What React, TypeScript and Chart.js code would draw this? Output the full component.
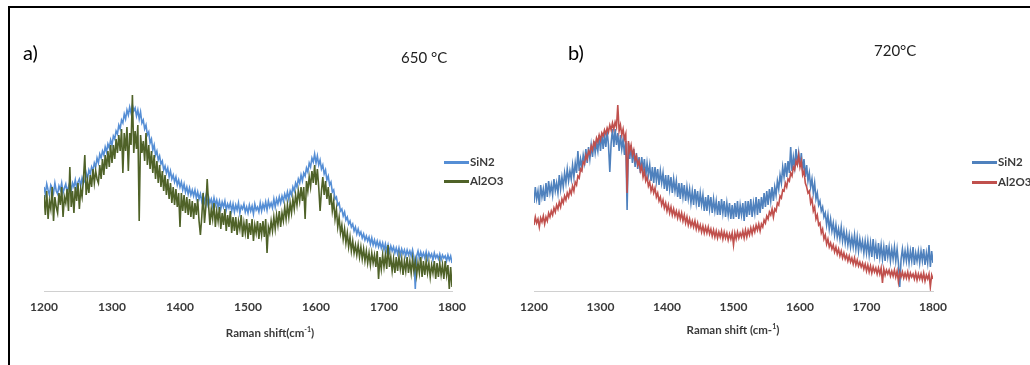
import React, { useEffect, useRef } from "react";
import { Chart, registerables } from "chart.js";

Chart.register(...registerables);

// Raman shift grid (cm-1), 2 cm-1 steps from 1200 to 1800 (301 points)
const ramanShift: number[] = Array.from({ length: 301 }, (_, i) => 1200 + 2 * i);
const xTicks = [1200, 1300, 1400, 1500, 1600, 1700, 1800];

// Panel a) 650 °C — intensity (a.u.), one row = 20 cm-1
const a650SiN2 = [
  104, 97, 107, 101, 96, 106, 103, 98, 108, 100,
  97, 105, 101, 108, 98, 103, 107, 99, 104, 109,
  100, 108, 104, 111, 103, 109, 112, 105, 113, 108,
  110, 118, 112, 121, 117, 124, 120, 128, 124, 133,
  128, 137, 133, 140, 136, 144, 139, 147, 143, 151,
  146, 155, 152, 160, 157, 166, 162, 171, 168, 177,
  172, 181, 176, 184, 178, 186, 180, 183, 175, 181,
  172, 179, 168, 171, 162, 166, 156, 159, 148, 152,
  141, 146, 136, 140, 131, 135, 127, 130, 121, 125,
  118, 123, 114, 120, 112, 116, 109, 114, 106, 111,
  104, 109, 101, 107, 99, 104, 97, 103, 96, 101,
  95, 101, 93, 99, 92, 97, 90, 96, 89, 95,
  87, 94, 88, 92, 85, 93, 86, 91, 84, 90,
  82, 89, 84, 90, 81, 87, 83, 88, 80, 87,
  79, 86, 81, 88, 78, 85, 82, 87, 79, 84,
  78, 86, 80, 85, 77, 87, 81, 84, 79, 88,
  80, 87, 82, 89, 81, 90, 84, 88, 83, 92,
  84, 92, 87, 94, 88, 95, 90, 97, 92, 99,
  92, 100, 96, 104, 100, 108, 104, 112, 108, 116,
  110, 118, 115, 123, 119, 128, 124, 133, 129, 137,
  128, 135, 126, 131, 122, 126, 117, 121, 111, 115,
  106, 109, 99, 101, 92, 94, 86, 88, 80, 82,
  75, 79, 71, 74, 67, 70, 64, 67, 60, 64,
  57, 62, 56, 59, 53, 57, 51, 55, 50, 54,
  47, 53, 46, 51, 45, 50, 44, 49, 43, 48,
  41, 47, 40, 46, 39, 45, 40, 44, 38, 43,
  37, 43, 36, 42, 37, 41, 35, 41, 36, 40,
  35, 41, 34, 2, 35, 40, 33, 39, 34, 38,
  33, 39, 32, 38, 34, 37, 31, 38, 33, 36,
  32, 37, 31, 36, 33, 35, 30, 36, 31, 35,
  28,
];
const a650Al2O3 = [
  96, 76, 100, 72, 90, 82, 104, 70, 94, 84,
  78, 98, 86, 104, 74, 94, 88, 102, 80, 124,
  84, 100, 78, 104, 90, 108, 82, 102, 94, 112,
  136, 96, 110, 98, 116, 104, 122, 108, 120, 112,
  108, 126, 112, 132, 116, 136, 122, 140, 124, 146,
  128, 146, 132, 152, 138, 156, 140, 162, 118, 158,
  140, 164, 120, 158, 146, 196, 138, 160, 142, 166,
  70, 156, 138, 150, 130, 158, 126, 146, 122, 140,
  118, 136, 112, 130, 108, 126, 104, 120, 100, 116,
  96, 112, 92, 108, 88, 104, 86, 102, 84, 98,
  64, 98, 80, 96, 78, 94, 76, 92, 74, 90,
  72, 88, 76, 92, 70, 56, 74, 98, 68, 84,
  112, 86, 66, 82, 72, 88, 64, 80, 70, 84,
  62, 78, 66, 82, 60, 76, 64, 80, 58, 74,
  60, 74, 56, 70, 62, 76, 54, 68, 58, 72,
  52, 68, 56, 72, 50, 66, 58, 70, 52, 68,
  56, 70, 54, 72, 38, 64, 58, 70, 60, 74,
  62, 76, 66, 80, 64, 78, 70, 84, 72, 86,
  74, 88, 78, 92, 82, 96, 86, 100, 90, 104,
  90, 104, 72, 110, 100, 114, 104, 120, 108, 126,
  106, 122, 104, 80, 100, 114, 96, 110, 92, 104,
  86, 98, 80, 90, 72, 82, 64, 74, 58, 66,
  52, 62, 48, 58, 44, 54, 40, 50, 38, 46,
  36, 46, 34, 44, 32, 42, 30, 40, 28, 38,
  26, 38, 28, 36, 24, 40, 12, 34, 22, 36,
  24, 36, 22, 46, 24, 34, 20, 32, 18, 34,
  20, 34, 22, 32, 16, 30, 20, 34, 18, 30,
  18, 32, 20, 30, 16, 28, 18, 34, 14, 30,
  16, 30, 18, 28, 14, 26, 18, 30, 12, 28,
  14, 28, 16, 26, 12, 30, 16, 26, 2, 24,
  4,
];

// Panel b) 720 °C — intensity (a.u.), one row = 20 cm-1
const b720SiN2 = [
  88, 104, 92, 100, 86, 106, 94, 102, 90, 108,
  94, 110, 98, 106, 96, 112, 100, 108, 98, 116,
  102, 114, 104, 118, 108, 122, 110, 120, 112, 126,
  114, 128, 118, 140, 120, 132, 124, 136, 128, 142,
  128, 144, 132, 146, 134, 150, 138, 148, 140, 156,
  140, 158, 142, 156, 144, 160, 146, 119, 148, 162,
  144, 162, 146, 158, 140, 156, 142, 152, 136, 150,
  81, 148, 132, 146, 128, 142, 124, 138, 122, 134,
  118, 134, 120, 132, 114, 128, 116, 126, 110, 124,
  108, 124, 110, 122, 106, 120, 108, 118, 102, 116,
  100, 116, 102, 114, 98, 112, 100, 110, 94, 108,
  92, 108, 94, 106, 90, 104, 92, 102, 88, 100,
  86, 102, 88, 100, 84, 98, 86, 96, 80, 94,
  80, 96, 82, 94, 78, 92, 80, 90, 76, 90,
  76, 92, 78, 90, 74, 88, 76, 88, 72, 86,
  72, 88, 74, 90, 72, 86, 76, 88, 70, 90,
  74, 90, 76, 92, 74, 88, 78, 94, 76, 92,
  78, 94, 82, 98, 84, 100, 86, 102, 90, 104,
  90, 104, 96, 110, 102, 116, 108, 124, 114, 128,
  114, 130, 118, 144, 120, 134, 124, 142, 126, 138,
  124, 138, 120, 132, 114, 126, 110, 118, 104, 112,
  98, 108, 92, 98, 86, 90, 80, 84, 74, 78,
  66, 76, 62, 72, 60, 68, 56, 66, 54, 62,
  52, 64, 50, 60, 48, 58, 46, 56, 44, 54,
  44, 56, 42, 54, 40, 52, 42, 50, 38, 50,
  38, 50, 36, 48, 34, 52, 36, 46, 32, 48,
  34, 46, 32, 44, 30, 46, 34, 44, 30, 42,
  32, 44, 30, 42, 28, 4, 32, 42, 30, 40,
  30, 42, 28, 40, 30, 44, 26, 38, 30, 40,
  28, 40, 30, 42, 26, 38, 28, 46, 24, 40,
  28,
];
const b720Al2O3 = [
  66, 74, 68, 72, 64, 73, 69, 75, 67, 74,
  70, 78, 74, 80, 76, 83, 79, 86, 82, 89,
  84, 92, 88, 95, 91, 98, 94, 101, 97, 105,
  100, 109, 106, 115, 113, 122, 120, 129, 127, 136,
  132, 140, 137, 145, 141, 149, 145, 153, 149, 156,
  151, 158, 155, 161, 157, 163, 159, 166, 161, 168,
  162, 169, 164, 186, 160, 166, 156, 162, 152, 157,
  98, 150, 140, 146, 136, 141, 131, 135, 126, 130,
  120, 125, 114, 120, 110, 114, 105, 109, 100, 105,
  98, 103, 94, 98, 90, 94, 86, 91, 83, 88,
  80, 86, 78, 84, 76, 82, 75, 80, 73, 79,
  72, 78, 70, 76, 68, 74, 66, 72, 65, 70,
  64, 70, 62, 68, 61, 66, 59, 65, 58, 64,
  58, 64, 57, 62, 55, 61, 54, 60, 53, 59,
  54, 60, 52, 59, 53, 58, 51, 57, 52, 58,
  46, 58, 52, 59, 53, 58, 54, 60, 53, 61,
  54, 61, 56, 63, 57, 64, 59, 66, 61, 67,
  60, 67, 64, 71, 68, 75, 72, 79, 76, 82,
  74, 82, 80, 88, 86, 95, 93, 101, 100, 108,
  104, 112, 110, 118, 115, 124, 121, 130, 126, 136,
  124, 130, 116, 120, 108, 104, 98, 100, 88, 92,
  80, 84, 72, 76, 66, 68, 58, 62, 52, 56,
  47, 52, 44, 48, 42, 46, 39, 44, 37, 42,
  35, 40, 33, 38, 32, 36, 30, 35, 29, 33,
  27, 33, 26, 31, 25, 29, 24, 28, 22, 27,
  20, 26, 19, 25, 18, 24, 19, 23, 17, 23,
  17, 23, 8, 22, 16, 21, 17, 21, 15, 20,
  15, 21, 14, 20, 9, 19, 14, 19, 13, 18,
  13, 19, 12, 18, 14, 17, 12, 18, 11, 17,
  12, 17, 11, 18, 10, 16, 12, 17, 4, 16,
  12,
];

const FONT = "Lato, 'Open Sans', sans-serif";

type PanelSpec = {
  sin2: number[];
  al2o3: number[];
  sin2Color: string;
  al2o3Color: string;
  padLeft: number;
  padRight: number;
};

function makeChart(canvas: HTMLCanvasElement, spec: PanelSpec) {
  const toPts = (vals: number[]) => vals.map((y, i) => ({ x: ramanShift[i], y }));
  return new Chart(canvas, {
    type: "line",
    data: {
      datasets: [
        {
          label: "Al2O3",
          data: toPts(spec.al2o3),
          borderColor: spec.al2o3Color,
          borderWidth: 1.6,
          pointRadius: 0,
          tension: 0,
        },
        {
          label: "SiN2",
          data: toPts(spec.sin2),
          borderColor: spec.sin2Color,
          borderWidth: 1.6,
          pointRadius: 0,
          tension: 0,
        },
      ],
    },
    options: {
      animation: false,
      responsive: false,
      devicePixelRatio: 1,
      layout: { padding: { left: spec.padLeft, right: spec.padRight, top: 91, bottom: 0 } },
      plugins: { legend: { display: false }, tooltip: { enabled: false } },
      scales: {
        x: {
          type: "linear",
          min: 1200,
          max: 1800,
          afterBuildTicks: (s: any) => {
            s.ticks = xTicks.map((v) => ({ value: v }));
          },
          afterFit: (s: any) => {
            s.height = 74;
          },
          grid: { display: false, drawTicks: false },
          border: { display: true, color: "#D0D0D0", width: 1 },
          ticks: {
            padding: 9,
            color: "#3A3A3A",
            font: { family: FONT, size: 12, weight: "bold" },
            maxRotation: 0,
            callback: (v: any) => String(v),
          },
        },
        y: {
          display: false,
          min: 0,
          max: 200,
        },
      },
    },
  });
}

const abs = (s: React.CSSProperties): React.CSSProperties => ({ position: "absolute", ...s });

function LegendRow({ x, y, color, label }: { x: number; y: number; color: string; label: string }) {
  return (
    <>
      <div style={abs({ left: x, top: y - 1, width: 25, height: 2.5, background: color })} />
      <div
        style={abs({
          left: x + 26,
          top: y - 8,
          font: `bold 11.5px ${FONT}`,
          color: "#3A3A3A",
          lineHeight: "16px",
          whiteSpace: "nowrap",
        })}
      >
        {label}
      </div>
    </>
  );
}

export default function App() {
  const refA = useRef<HTMLCanvasElement>(null);
  const refB = useRef<HTMLCanvasElement>(null);

  useEffect(() => {
    const ca = makeChart(refA.current!, {
      sin2: a650SiN2,
      al2o3: a650Al2O3,
      sin2Color: "#558ED5",
      al2o3Color: "#4F6228",
      padLeft: 44,
      padRight: 68,
    });
    const cb = makeChart(refB.current!, {
      sin2: b720SiN2,
      al2o3: b720Al2O3,
      sin2Color: "#4F81BD",
      al2o3Color: "#C0504D",
      padLeft: 24,
      padRight: 97,
    });
    return () => {
      ca.destroy();
      cb.destroy();
    };
  }, []);

  const textBase: React.CSSProperties = { fontFamily: FONT, color: "#000", whiteSpace: "nowrap" };
  const axisTitle: React.CSSProperties = {
    ...textBase,
    transform: "translateX(-50%)",
    font: `bold 11.5px ${FONT}`,
    color: "#3A3A3A",
    lineHeight: "16px",
  };

  return (
    <div style={abs({ left: 0, top: 0, width: 1030, height: 365, overflow: "hidden", background: "#fff" })}>
      <canvas ref={refA} width={520} height={365} style={abs({ left: 0, top: 0, width: 520, height: 365 })} />
      <canvas ref={refB} width={520} height={365} style={abs({ left: 510, top: 0, width: 520, height: 365 })} />
      <div
        style={abs({
          left: 8,
          top: 6,
          width: 1100,
          height: 400,
          borderTop: "2px solid #000",
          borderLeft: "2px solid #000",
          pointerEvents: "none",
        })}
      />
      {/* Panel a */}
      <div style={abs({ ...textBase, left: 23, top: 40, fontSize: 20, lineHeight: "24px" })}>a)</div>
      <div style={abs({ ...textBase, left: 401, top: 47, fontSize: 15, lineHeight: "20px", color: "#222" })}>650 °C</div>
      <div style={abs({ ...axisTitle, left: 270, top: 321 })}>
        Raman shift(cm<sup style={{ fontSize: 7, verticalAlign: "5px" }}>-1</sup>)
      </div>
      <LegendRow x={444} y={162} color="#558ED5" label="SiN2" />
      <LegendRow x={444} y={181} color="#4F6228" label="Al2O3" />
      {/* Panel b */}
      <div style={abs({ ...textBase, left: 568, top: 40, fontSize: 20, lineHeight: "24px" })}>b)</div>
      <div style={abs({ ...textBase, left: 874, top: 40, fontSize: 15, lineHeight: "20px", color: "#222" })}>720°C</div>
      <div style={abs({ ...axisTitle, left: 733, top: 318 })}>
        Raman shift (cm-<sup style={{ fontSize: 7, verticalAlign: "5px" }}>1</sup>)
      </div>
      <LegendRow x={972} y={162} color="#4F81BD" label="SiN2" />
      <LegendRow x={972} y={182} color="#C0504D" label="Al2O3" />
    </div>
  );
}
